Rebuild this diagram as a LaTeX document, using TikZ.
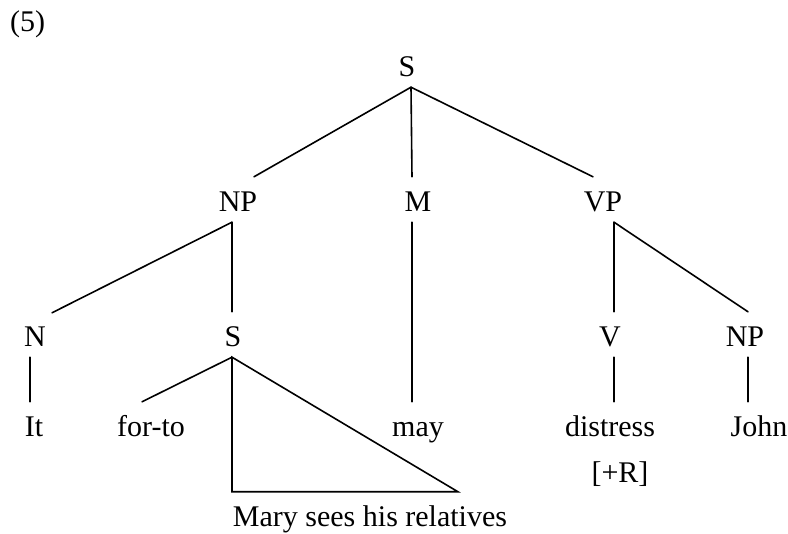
\documentclass[tikz,border=0pt]{standalone}
\usepackage{fontspec}
\setmainfont{Liberation Serif}
\begin{document}
\begin{tikzpicture}[x=1pt,y=-1pt,
  lab/.style={anchor=base,inner sep=0pt,text height=20pt,text depth=0pt,
              font=\fontsize{30}{36}\selectfont},
  edge/.style={line width=1.6pt,line cap=round,line join=miter}]
\useasboundingbox (0,0) rectangle (788,534);
% labels
\node[lab,anchor=base west] (num) at (10,32) {(5)};
\node[lab] (S0) at (407,77) {S};
\node[lab] (NP1) at (238,212) {NP};
\node[lab] (M) at (418,212) {M};
\node[lab] (VP) at (603,212) {VP};
\node[lab] (N) at (35,347) {N};
\node[lab] (S1) at (233,347) {S};
\node[lab] (V) at (610,347) {V};
\node[lab] (NP2) at (745,347) {NP};
\node[lab] (It) at (34,437) {It};
\node[lab] (forto) at (151,437) {for-to};
\node[lab] (may) at (418,437) {may};
\node[lab] (distress) at (610,437) {distress};
\node[lab] (John) at (759,437) {John};
\node[lab] (R) at (620,483) {[+R]};
\node[lab] (Mary) at (370,527) {Mary sees his relatives};
% connector ends
\coordinate (S0b) at ([xshift=4pt,yshift=-10pt]S0.south);
\coordinate (NP1t) at ([xshift=16pt,yshift=15pt]NP1.north);
\coordinate (Mt) at ([xshift=-6pt,yshift=15pt]M.north);
\coordinate (VPt) at ([xshift=-10pt,yshift=15pt]VP.north);
\coordinate (NP1b) at ([xshift=-6pt,yshift=-10pt]NP1.south);
\coordinate (Nt) at ([xshift=17pt,yshift=14pt]N.north);
\coordinate (S1t) at ([xshift=-1pt,yshift=15pt]S1.north);
\coordinate (Mb) at ([xshift=-6pt,yshift=-10pt]M.south);
\coordinate (mayt) at ([xshift=-6pt,yshift=15pt]may.north);
\coordinate (VPb) at ([xshift=11pt,yshift=-10pt]VP.south);
\coordinate (Vt) at ([xshift=4pt,yshift=15pt]V.north);
\coordinate (NP2t) at ([xshift=3pt,yshift=15pt]NP2.north);
\coordinate (Nb) at ([xshift=-5pt,yshift=-10pt]N.south);
\coordinate (Itt) at ([xshift=-4pt,yshift=15pt]It.north);
\coordinate (S1b) at ([xshift=-1pt,yshift=-10pt]S1.south);
\coordinate (fortot) at ([xshift=-9pt,yshift=15pt]forto.north);
\coordinate (TriL) at ([xshift=-138pt,yshift=15pt]Mary.north);
\coordinate (TriR) at ([xshift=88pt,yshift=15pt]Mary.north);
\coordinate (Vb) at ([xshift=4pt,yshift=-10pt]V.south);
\coordinate (distresst) at ([xshift=4pt,yshift=15pt]distress.north);
\coordinate (NP2b) at ([xshift=3pt,yshift=-10pt]NP2.south);
\coordinate (Johnt) at ([xshift=-11pt,yshift=15pt]John.north);
% connectors
\draw[edge] (S0b) -- (NP1t);
\draw[edge] (S0b) -- (Mt);
\draw[edge] (S0b) -- (VPt);
\draw[edge] (NP1b) -- (Nt);
\draw[edge] (NP1b) -- (S1t);
\draw[edge] (Mb) -- (mayt);
\draw[edge] (VPb) -- (Vt);
\draw[edge] (VPb) -- (NP2t);
\draw[edge] (Nb) -- (Itt);
\draw[edge] (S1b) -- (fortot);
\draw[edge] (S1b) -- (TriL) -- (TriR) -- cycle;
\draw[edge] (Vb) -- (distresst);
\draw[edge] (NP2b) -- (Johnt);
\end{tikzpicture}
\end{document}
